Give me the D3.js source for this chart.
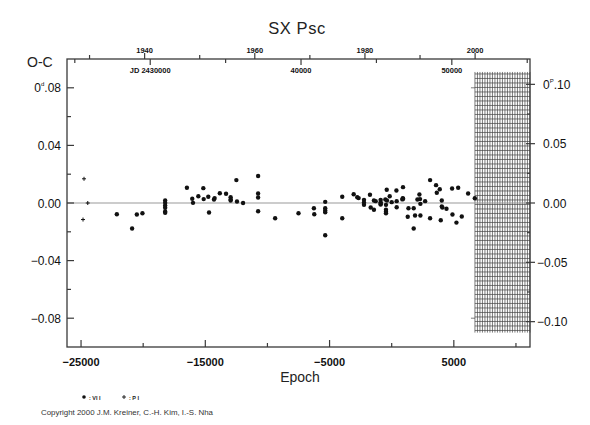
<!DOCTYPE html>
<html>
<head>
<meta charset="utf-8">
<script src="https://cdn.jsdelivr.net/npm/d3@7"></script>
<style>
  body { margin: 0; background: #fff; }
  svg { display: block; font-family: "Liberation Sans", Arial, sans-serif; }
</style>
</head>
<body>
<svg id="chart" width="590" height="425"></svg>
<script>
// O-C data (epoch, days)
const viEpoch = [-22120, -20890, -20510, -20060,
  -18230, -18230, -18230, -18230, -18230, -18230,
  -16480, -16050, -15990, -15560, -15160, -15130, -14760, -14700, -14300, -14250,
  -13830, -13330, -12960, -12960, -12960, -12500, -12450, -11960,
  -10750, -10750, -10750, -10750, -9380, -7500, -6260, -6230,
  -5350, -5350, -5350, -5350, -5350, -3980, -3980, -3060, -2770, -2660,
  -2230, -2230, -2230, -1750, -1690, -1430, -1430, -1290,
  -890, -890, -890, -890, -510, -460, -460, -460, -460, -400, -380, -160, 0,
  380, 400, 400, 860, 890, 920, 910, 1290, 1350, 1770, 1770, 1880,
  2070, 2230, 2280, 2310, 2310, 2690, 3090, 3090, 3570, 3630, 3870, 3950,
  4030, 4030, 4080, 4410, 4860, 4890, 5210, 5350, 5640, 6150, 6690];
const viOC = [-0.0078, -0.0177, -0.0080, -0.0071,
  0.0017, 0.0001, -0.0017, -0.0033, -0.0059, -0.0068,
  0.0106, 0.0029, 0.0001, 0.0047, 0.0103, 0.0027, 0.0043, -0.0066, 0.0024, 0.0034,
  0.0068, 0.0064, 0.0040, 0.0024, 0.0017, 0.0159, 0.0010, 0.0000,
  0.0187, 0.0066, 0.0038, -0.0057, -0.0106, -0.0071, -0.0036, -0.0078,
  0.0008, -0.0036, -0.0052, -0.0064, -0.0224, 0.0043, -0.0106, 0.0061, 0.0040, 0.0034,
  0.0022, 0.0003, -0.0013, 0.0057, -0.0031, 0.0017, -0.0047, 0.0013,
  0.0022, 0.0006, -0.0006, -0.0010, 0.0024, -0.0013, -0.0047, -0.0061, -0.0071, 0.0092, 0.0017, 0.0047, 0.0006,
  0.0087, 0.0013, -0.0029, 0.0025, 0.0033, 0.0029, 0.0110, -0.0096, -0.0036, -0.0036, -0.0177, -0.0087,
  0.0024, 0.0059, 0.0027, -0.0006, -0.0087, 0.0013, 0.0159, -0.0106, 0.0124, 0.0071, 0.0096, -0.0120,
  0.0017, -0.0024, -0.0031, -0.0040, 0.0101, -0.0080, -0.0136, 0.0106, -0.0094, 0.0066, 0.0033];
const piEpoch = [-24760, -24460, -24840];
const piOC = [0.0168, 0.0000, -0.0115];

// ephemeris used for the upper JD / year axis and the phase axis
const T0 = 46013;      // JD - 2400000 at epoch 0
const period = 0.8240; // days

const epochTicks = [-25000, -20000, -15000, -10000, -5000, 0, 5000, 10000];
const epochLabels = ["-25000", "", "-15000", "", "-5000", "", "5000", ""];
const ocTicks = [-0.08, -0.06, -0.04, -0.02, 0, 0.02, 0.04, 0.06, 0.08];
const ocLabels = ["-0.08", "", "-0.04", "", "0.00", "", "0.04", "", "0.08"];
const phaseTicks = [-0.10, -0.075, -0.05, -0.025, 0, 0.025, 0.05, 0.075, 0.10];
const phaseLabels = ["-0.10", "", "-0.05", "", "0.00", "", "0.05", "", "0.10"];
const jdTicks = [25000, 30000, 35000, 40000, 45000, 50000, 55000];
const jdLabels = ["", "JD 2430000", "", "40000", "", "50000", ""];
const yearTicks = [1930, 1940, 1950, 1960, 1970, 1980, 1990, 2000];
const yearLabels = ["", "1940", "", "1960", "", "1980", "", "2000"];

// hatched "no data yet" block at the right end
const gridEpoch = [6700, 11130];
const gridOC = [-0.090, 0.091];

const svg = d3.select("#chart");
const mLeft = 67, mRight = 530, mTop = 59, mBottom = 347;
const ink = "#3a3a3a";

const x = d3.scaleLinear().domain([-26130, 11130]).range([mLeft, mRight]);
const y = d3.scaleLinear().domain([-0.1, 0.1]).range([mBottom, mTop]);
const xJD = d3.scaleLinear()
  .domain(x.domain().map(e => T0 + period * e)).range([mLeft, mRight]);
const yPh = d3.scaleLinear()
  .domain(y.domain().map(v => v / period)).range([mBottom, mTop]);
const yearToJD = yr => 51544.5 + (yr - 2000) * 365.25;

/////////////////////////////////////////////////////////
// GRID BLOCK

const g = svg.append("g").attr("stroke", "#444").attr("stroke-width", 0.7);
const gx0 = x(gridEpoch[0]), gx1 = x(gridEpoch[1]);
const gy0 = y(gridOC[1]), gy1 = y(gridOC[0]);
d3.range(gx0, gx1, 2.5).forEach(v => {
  g.append("line").attr("x1", v).attr("x2", v).attr("y1", gy0).attr("y2", gy1);
});
d3.range(gy0 + 2, gy1, 4.5).forEach(v => {
  g.append("line").attr("x1", gx0).attr("x2", gx1).attr("y1", v).attr("y2", v);
});
[0.08, -0.08].forEach(d => {
  g.append("line").attr("x1", gx0 - 4).attr("x2", gx0).attr("y1", y(d)).attr("y2", y(d));
});

// zero line
svg.append("line")
  .attr("x1", mLeft).attr("x2", mRight).attr("y1", y(0)).attr("y2", y(0))
  .attr("stroke", "#9a9a9a").attr("stroke-width", 1.2);

/////////////////////////////////////////////////////////
// FRAME + TICKS

svg.append("rect")
  .attr("x", mLeft).attr("y", mTop).attr("width", mRight - mLeft).attr("height", mBottom - mTop)
  .attr("fill", "none").attr("stroke", ink).attr("stroke-width", 1.3);

const tickLen = lab => lab ? 7 : 4;

// bottom (epoch)
const tk = svg.append("g").attr("stroke", ink).attr("stroke-width", 1.2);
epochTicks.forEach((t, i) => {
  tk.append("line").attr("x1", x(t)).attr("x2", x(t))
    .attr("y1", mBottom).attr("y2", mBottom - tickLen(epochLabels[i]));
});
svg.append("g").selectAll("text").data(epochTicks).join("text")
  .attr("x", d => x(d)).attr("y", 366)
  .attr("text-anchor", "middle").attr("font-size", 11).attr("font-weight", "bold")
  .attr("fill", "#111")
  .text((d, i) => epochLabels[i].replace("-", "\u2212"));

// left (O-C days)
ocTicks.forEach((t, i) => {
  tk.append("line").attr("x1", mLeft).attr("x2", mLeft + tickLen(ocLabels[i]))
    .attr("y1", y(t)).attr("y2", y(t));
});
ocLabels.forEach((lab, i) => {
  if (!lab) return;
  const t = svg.append("text").attr("x", 61).attr("y", y(ocTicks[i]) + 4.5)
    .attr("text-anchor", "end").attr("font-size", 12).attr("fill", "#111");
  if (i === ocLabels.length - 1) {
    t.append("tspan").text("0");
    t.append("tspan").attr("font-size", 6).attr("dy", -6).text("d");
    t.append("tspan").attr("dy", 6).text(".08");
  } else {
    t.text(lab.replace("-", "\u2212"));
  }
});

// right (phase)
phaseTicks.forEach((t, i) => {
  const l = phaseLabels[i] ? 4 : 3;
  tk.append("line").attr("x1", mRight - l).attr("x2", mRight + (phaseLabels[i] ? 5 : 0))
    .attr("y1", yPh(t)).attr("y2", yPh(t));
});
phaseLabels.forEach((lab, i) => {
  if (!lab) return;
  const t = svg.append("text").attr("x", lab[0] === "-" ? 537 : 543).attr("y", yPh(phaseTicks[i]) + 4.5)
    .attr("font-size", 12).attr("fill", "#111");
  if (i === phaseLabels.length - 1) {
    t.append("tspan").text("0");
    t.append("tspan").attr("font-size", 6).attr("dy", -6).text("P");
    t.append("tspan").attr("dy", 6).text(".10");
  } else {
    t.text(lab.replace("-", "\u2212"));
  }
});

// top: JD ticks point down, year ticks point up
jdTicks.forEach((t, i) => {
  if (xJD(t) < mLeft || xJD(t) > mRight) return;
  tk.append("line").attr("x1", xJD(t)).attr("x2", xJD(t))
    .attr("y1", mTop).attr("y2", mTop + (jdLabels[i] ? 6 : 4));
});
svg.append("g").selectAll("text").data(jdTicks.filter((d, i) => jdLabels[i])).join("text")
  .attr("x", d => xJD(d)).attr("y", 73)
  .attr("text-anchor", "middle").attr("font-size", 7.5).attr("font-weight", "bold")
  .attr("fill", "#111")
  .text(d => jdLabels[jdTicks.indexOf(d)]);

yearTicks.forEach((t, i) => {
  const px = xJD(yearToJD(t));
  tk.append("line").attr("x1", px).attr("x2", px)
    .attr("y1", mTop).attr("y2", mTop - (yearLabels[i] ? 6 : 4));
});
svg.append("g").selectAll("text").data(yearTicks.filter((d, i) => yearLabels[i])).join("text")
  .attr("x", d => xJD(yearToJD(d))).attr("y", 53)
  .attr("text-anchor", "middle").attr("font-size", 7.5).attr("font-weight", "bold")
  .attr("fill", "#111")
  .text(d => d);

/////////////////////////////////////////////////////////
// POINTS

svg.append("g").selectAll("circle").data(viEpoch).join("circle")
  .attr("cx", d => x(d)).attr("cy", (d, i) => y(viOC[i]))
  .attr("r", 2.2).attr("fill", "#111");

svg.append("g").selectAll("path").data(piEpoch).join("path")
  .attr("d", (d, i) => {
    const cx = x(d), cy = y(piOC[i]);
    return `M${cx - 2},${cy}H${cx + 2}M${cx},${cy - 2}V${cy + 2}`;
  })
  .attr("stroke", "#111").attr("stroke-width", 1);

/////////////////////////////////////////////////////////
// TEXT

svg.append("text").attr("x", 297).attr("y", 34).attr("text-anchor", "middle")
  .attr("font-size", 16.5).attr("letter-spacing", 0.6).attr("fill", "#222").text("SX Psc");
svg.append("text").attr("x", 27).attr("y", 67)
  .attr("font-size", 14).attr("fill", "#222").text("O-C");
svg.append("text").attr("x", 300).attr("y", 382).attr("text-anchor", "middle")
  .attr("font-size", 14).attr("fill", "#222").text("Epoch");

// legend
svg.append("circle").attr("cx", 84).attr("cy", 397).attr("r", 1.8).attr("fill", "#111");
svg.append("text").attr("x", 89).attr("y", 399.5).attr("font-size", 5.5).attr("font-weight", "bold")
  .attr("fill", "#222").text(": VI I");
svg.append("path").attr("d", "M122,397H126M124,395V399").attr("stroke", "#111").attr("stroke-width", 0.9);
svg.append("text").attr("x", 129).attr("y", 399.5).attr("font-size", 5.5).attr("font-weight", "bold")
  .attr("fill", "#222").text(": P I");

svg.append("text").attr("x", 41).attr("y", 415).attr("font-size", 7.5)
  .attr("textLength", 172).attr("lengthAdjust", "spacingAndGlyphs")
  .attr("fill", "#333").text("Copyright 2000 J.M. Kreiner, C.-H. Kim, I.-S. Nha");
</script>
</body>
</html>
